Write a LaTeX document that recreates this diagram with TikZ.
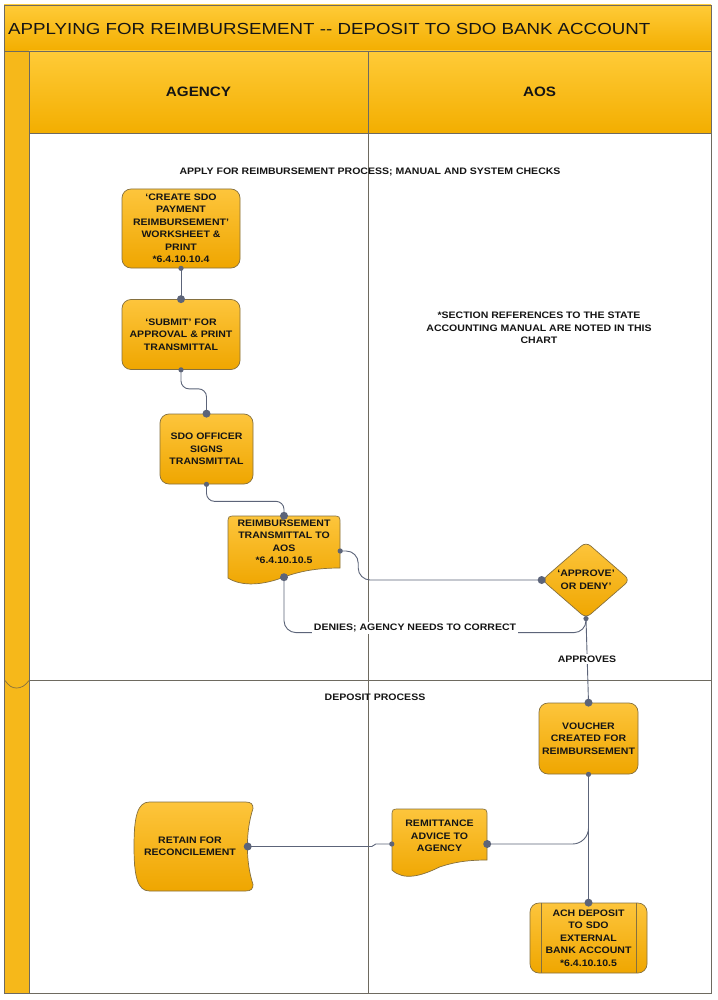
\documentclass[tikz,border=0pt]{standalone}
\usepackage{fontspec}
\setmainfont{Liberation Sans}[FakeStretch=1.12]
\newfontfamily\titlefont{Liberation Sans}[FakeStretch=1.17]
\usetikzlibrary{shapes.geometric,calc}
\definecolor{barT}{HTML}{FFCB38}
\definecolor{barB}{HTML}{F3AE00}
\definecolor{nodeT}{HTML}{FDC53C}
\definecolor{nodeB}{HTML}{EFA600}
\definecolor{stripc}{HTML}{F6B81A}
\definecolor{nodeline}{HTML}{85703F}
\definecolor{framec}{HTML}{6E6A60}
\definecolor{connc}{HTML}{5C6479}
\definecolor{txtc}{HTML}{151515}
\begin{document}
\begin{tikzpicture}[x=1pt,y=-1pt,
  nfont/.style={font=\fontsize{9.4}{12.5}\selectfont\bfseries},
  proc/.style={rectangle, rounded corners=9pt, draw=nodeline, line width=0.7pt, top color=nodeT, bottom color=nodeB, align=center, inner sep=0pt, text=txtc, nfont},
  decision/.style={diamond, rounded corners=6pt, draw=nodeline, line width=0.7pt, top color=nodeT, bottom color=nodeB, align=center, inner sep=0pt, text=txtc, nfont},
  holder/.style={rectangle, inner sep=0pt},
  shapefill/.style={draw=nodeline, line width=0.7pt, top color=nodeT, bottom color=nodeB},
  txtnode/.style={align=center, inner sep=0pt, text=txtc, nfont},
  link/.style={draw=connc, line width=0.9pt},
  lbl/.style={fill=white, inner sep=1.5pt, text=txtc, nfont},
  lanebar/.style={draw=framec, line width=0.8pt, top color=barT, bottom color=barB},
]
\useasboundingbox (0,0) rectangle (717,1000);
\fill[white] (0,0) rectangle (717,1000);

% ---------- pool frame ----------
\path[lanebar] (4,5) rectangle (711,51);
\fill[white] (29,133) rectangle (711,993);
\path[lanebar] (29,51) rectangle (368,133);
\path[lanebar] (368,51) rectangle (711,133);
\path[fill=stripc, draw=framec, line width=0.8pt] (4,51) rectangle (29,993);
\draw[framec, line width=0.8pt] (29,133) rectangle (711,993);
\draw[framec, line width=0.8pt] (368,133) -- (368,993);
\draw[framec, line width=0.8pt] (29,680.5) -- (711,680.5);
\draw[nodeline, line width=0.7pt] (5,680.5) .. controls (9,686) and (12,688) .. (16.5,688) .. controls (21,688) and (25,686) .. (29,680.5);

\node[anchor=west, inner sep=0pt, text=txtc, font=\titlefont\fontsize{16}{18}\selectfont] (title) at (8,28.5) {APPLYING FOR REIMBURSEMENT -- DEPOSIT TO SDO BANK ACCOUNT};
\node[inner sep=0pt, text=txtc, font=\fontsize{13.6}{15}\selectfont\bfseries] (hagency) at (198.5,92) {AGENCY};
\node[inner sep=0pt, text=txtc, font=\fontsize{13.6}{15}\selectfont\bfseries] (haos) at (539.5,92) {AOS};

\node[txtnode] (phase1) at (370,172) {APPLY FOR REIMBURSEMENT PROCESS; MANUAL AND SYSTEM CHECKS};
\node[txtnode] (note) at (539,328) {*SECTION REFERENCES TO THE STATE\\ACCOUNTING MANUAL ARE NOTED IN THIS\\CHART};
\node[txtnode] (phase2) at (375,697.5) {DEPOSIT PROCESS};

% ---------- nodes ----------
\node[proc, minimum width=118pt, minimum height=79pt] (n1) at (181,228.5) {‘CREATE SDO\\PAYMENT\\REIMBURSEMENT’\\WORKSHEET \&\\PRINT\\*6.4.10.10.4};
\node[proc, minimum width=118pt, minimum height=70pt] (n2) at (181,334.5) {‘SUBMIT’ FOR\\APPROVAL \& PRINT\\TRANSMITTAL};
\node[proc, minimum width=93pt, minimum height=70pt] (n3) at (206.5,449) {SDO OFFICER\\SIGNS\\TRANSMITTAL};

% document shape: reimbursement transmittal
\node[holder, minimum width=112pt, minimum height=52pt] (n4) at (284,542) {};
\path[shapefill, shift={(n4.center)}] (-56,-18) .. controls (-56,-26) .. (-48,-26) -- (48,-26) .. controls (56,-26) .. (56,-18) -- (56,26) .. controls (30,26) and (14,30) .. (0,35) .. controls (-20,43) and (-42,45) .. (-56,36) -- cycle;
\node[txtnode] (n4t) at (n4.center) {REIMBURSEMENT\\TRANSMITTAL TO\\AOS\\*6.4.10.10.5};

\node[decision, minimum width=88pt, minimum height=68pt] (n5) at (586,580) {‘APPROVE’\\OR DENY’};
\node[proc, minimum width=99pt, minimum height=71pt] (n6) at (588.5,738.5) {VOUCHER\\CREATED FOR\\REIMBURSEMENT};

% document shape: remittance advice
\node[holder, minimum width=95pt, minimum height=54pt] (n7) at (439.5,836) {};
\path[shapefill, shift={(n7.center)}] (-47.5,-19) .. controls (-47.5,-27) .. (-39.5,-27) -- (39.5,-27) .. controls (47.5,-27) .. (47.5,-19) -- (47.5,24) .. controls (25,24) and (12,27) .. (0,31) .. controls (-18,40) and (-36,45) .. (-47.5,34) -- cycle;
\node[txtnode] (n7t) at (n7.center) {REMITTANCE\\ADVICE TO\\AGENCY};

% stored data shape: retain for reconcilement
\node[holder, minimum width=119pt, minimum height=89pt] (n8) at (193.5,846.5) {};
\path[shapefill, shift={(n8.center)}] (-44,-44.5) -- (52,-44.5) .. controls (58,-44.5) and (59.5,-42) .. (59.5,-38) .. controls (52,-15) and (52,15) .. (59.5,38) .. controls (59.5,42) and (58,44.5) .. (52,44.5) -- (-44,44.5) .. controls (-56,44.5) and (-59.5,30) .. (-59.5,0) .. controls (-59.5,-30) and (-56,-44.5) .. (-44,-44.5) -- cycle;
\node[txtnode] (n8t) at ([xshift=-3.5pt]n8.center) {RETAIN FOR\\RECONCILEMENT};

% predefined process: ACH deposit
\node[proc, minimum width=117pt, minimum height=70pt] (n9) at (588.5,938) {ACH DEPOSIT\\TO SDO\\EXTERNAL\\BANK ACCOUNT\\*6.4.10.10.5};
\draw[nodeline, line width=0.7pt] ([xshift=11.5pt]n9.north west) -- ([xshift=11.5pt]n9.south west);
\draw[nodeline, line width=0.7pt] ([xshift=-11.5pt]n9.north east) -- ([xshift=-11.5pt]n9.south east);

% ---------- connectors ----------
\draw[link] (n1.south) -- (n2.north);
\draw[link, rounded corners=8pt] (n2.south) -- ++(0,19) -| (n3.north);
\draw[link, rounded corners=8pt] (n3.south) -- ++(0,17) -| (n4.north);
\draw[link, rounded corners=12pt] ([yshift=-9pt]n4.east) -- ++(18,0) |- (n5.west);
\draw[link, rounded corners=12pt] (n5.south) -- ++(0,14) -| ([yshift=-9pt]n4.south);
\draw[link] (n5.south) -- (n6.north);
\draw[link] (n6.south) -- (n9.north);
\draw[link, rounded corners=16pt] (n6.south) |- ([yshift=-8pt]n7.east);
\draw[link] ([yshift=-8pt]n7.west) -- ++(-16,0) -- ++(-4,2.5) -- ([xshift=-5.5pt]n8.east);

\node[lbl] (ldeny) at (415,628) {DENIES; AGENCY NEEDS TO CORRECT};
\node[lbl] (lapp) at (587,659) {APPROVES};

% end dots
\foreach \p in {(n2.north),(n3.north),(n4.north),(n5.west),([yshift=-9pt]n4.south),(n6.north),(n9.north),([yshift=-8pt]n7.east),([xshift=-5.5pt]n8.east)}
  \fill[connc] \p circle (4pt);
\foreach \p in {(n1.south),(n2.south),(n3.south),([yshift=-9pt]n4.east),(n5.south),(n6.south),([yshift=-8pt]n7.west)}
  \fill[connc] \p circle (2.6pt);
\end{tikzpicture}
\end{document}
